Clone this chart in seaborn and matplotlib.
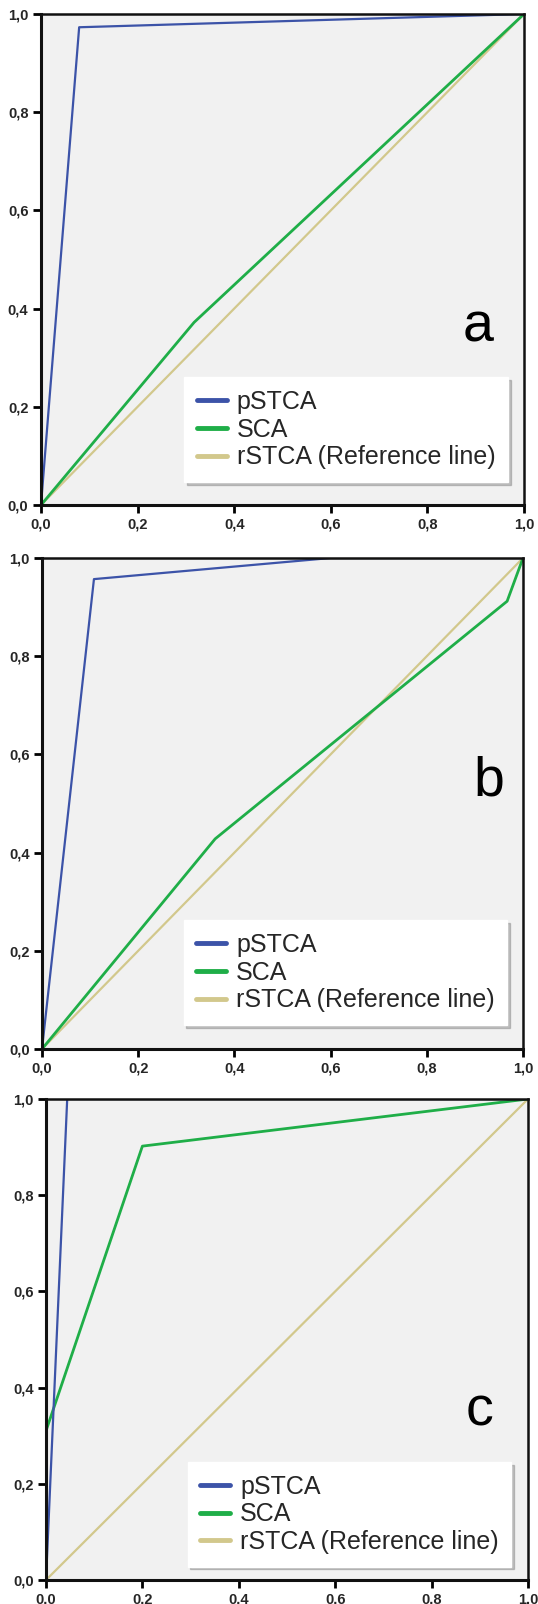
import numpy as np
import pandas as pd
import matplotlib
matplotlib.use("Agg")
import matplotlib.pyplot as plt
import seaborn as sns

# ---------------- data ----------------
series_names = ["pSTCA", "SCA", "rSTCA (Reference line)"]
panel_letters = ["a", "b", "c"]
tick_values = [0.0, 0.2, 0.4, 0.6, 0.8, 1.0]
tick_labels = ["0,0", "0,2", "0,4", "0,6", "0,8", "1,0"]

# panel a
a_pstca_x = [0.0, 0.079, 1.0]
a_pstca_y = [0.0, 0.973, 1.0]
a_sca_x = [0.0, 0.317, 1.0]
a_sca_y = [0.0, 0.372, 1.0]
# panel b
b_pstca_x = [0.0, 0.108, 0.60, 1.0]
b_pstca_y = [0.0, 0.957, 1.0, 1.0]
b_sca_x = [0.0, 0.36, 0.967, 1.0]
b_sca_y = [0.0, 0.428, 0.912, 1.0]
# panel c
c_pstca_x = [0.0, 0.044, 1.0]
c_pstca_y = [0.0, 1.0, 1.0]
c_sca_x = [0.0, 0.0, 0.20, 1.0]
c_sca_y = [0.0, 0.31, 0.902, 1.0]
# reference diagonal
ref_x = [0.0, 1.0]
ref_y = [0.0, 1.0]

panels = [
    (a_pstca_x, a_pstca_y, a_sca_x, a_sca_y),
    (b_pstca_x, b_pstca_y, b_sca_x, b_sca_y),
    (c_pstca_x, c_pstca_y, c_sca_x, c_sca_y),
]

# ---------------- style ----------------
sns.set_theme(style="white")
plt.rcParams["font.family"] = ["Liberation Sans", "DejaVu Sans"]

colors = {"pSTCA": "#3c53a8", "SCA": "#1fae48", "rSTCA (Reference line)": "#d2c88c"}
widths = {"pSTCA": 1.6, "SCA": 2.0, "rSTCA (Reference line)": 1.6}

fig = plt.figure(figsize=(5.38, 16.04), dpi=100)
W, H = 538.0, 1604.0

# axes boxes in pixels: left, right, top, bottom
boxes = [(41, 524, 14, 505), (42, 523, 558, 1049), (46, 528, 1099, 1580)]
legend_anchor = [(0.967, 0.047), (0.967, 0.049), (0.965, 0.028)]
letter_pos = [(0.905, 0.362), (0.929, 0.544), (0.90, 0.35)]

for i, (px, py, sx, sy) in enumerate(panels):
    l, r, t, b = boxes[i]
    ax = fig.add_axes([l / W, 1 - b / H, (r - l) / W, (b - t) / H])
    ax.set_facecolor("#f1f1f1")

    rows = []
    for name, xs, ys in [("rSTCA (Reference line)", ref_x, ref_y), ("SCA", sx, sy), ("pSTCA", px, py)]:
        for k, (x, y) in enumerate(zip(xs, ys)):
            rows.append({"series": name, "order": k, "fpr": x, "tpr": y})
    df = pd.DataFrame(rows)

    for name in ["rSTCA (Reference line)", "SCA", "pSTCA"]:
        sub = df[df["series"] == name]
        sns.lineplot(data=sub, x="fpr", y="tpr", sort=False, estimator=None,
                     color=colors[name], linewidth=widths[name], label=name, ax=ax)

    ax.set_xlim(0, 1)
    ax.set_ylim(0, 1)
    ax.margins(0)
    ax.set_xticks(tick_values)
    ax.set_yticks(tick_values)
    ax.set_xticklabels(tick_labels, fontsize=10.5, fontweight="bold")
    ax.set_yticklabels(tick_labels, fontsize=10.5, fontweight="bold")
    ax.tick_params(axis="both", direction="out", length=6, width=2, color="black",
                   bottom=True, left=True, pad=3)
    ax.set_xlabel("")
    ax.set_ylabel("")
    for side, sp in ax.spines.items():
        sp.set_visible(True)
        sp.set_color("#111111")
        sp.set_linewidth(2.2 if side in ("left", "bottom") else 1.8)

    handles, labels = ax.get_legend_handles_labels()
    order = [labels.index(n) for n in series_names]
    leg = ax.legend([handles[j] for j in order], [labels[j] for j in order],
                    loc="lower right", bbox_to_anchor=legend_anchor[i],
                    borderaxespad=0,
                    fontsize=18, frameon=True, fancybox=False, framealpha=1,
                    facecolor="white", edgecolor="white",
                    shadow={"color": "0.55", "alpha": 0.5},
                    handlelength=1.2, handletextpad=0.4, labelspacing=0.15,
                    borderpad=0.5)
    for ln in leg.get_lines():
        ln.set_linewidth(3.5)

    ax.text(letter_pos[i][0], letter_pos[i][1], panel_letters[i], transform=ax.transAxes,
            fontsize=40, ha="center", va="center", color="black")

fig.savefig("out.png", dpi=100)
